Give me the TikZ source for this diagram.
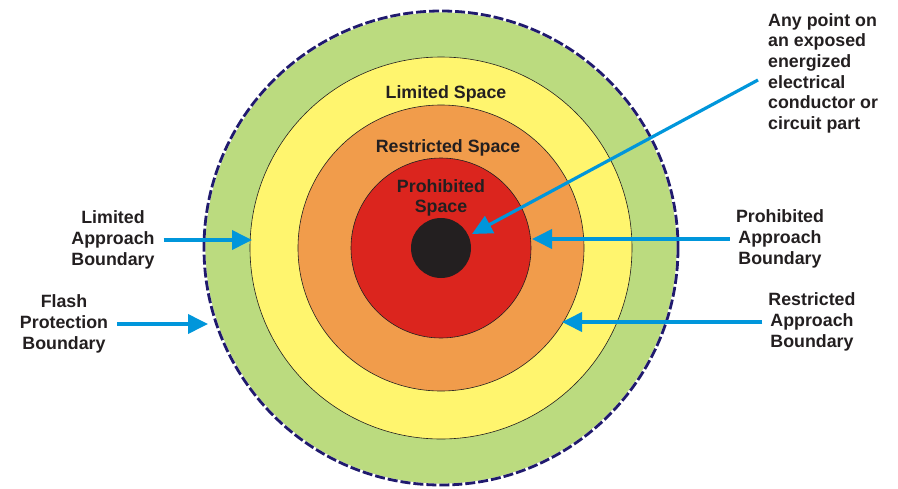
\documentclass[tikz,border=0pt]{standalone}
\usepackage{fontspec}
\setmainfont{Liberation Sans}
\usetikzlibrary{arrows.meta, positioning}
\definecolor{zoneFlash}{HTML}{BBDB7F}
\definecolor{zoneLimited}{HTML}{FFF56E}
\definecolor{zoneRestricted}{HTML}{F19C4B}
\definecolor{zoneProhibited}{HTML}{DB251E}
\definecolor{zoneCore}{HTML}{231F20}
\definecolor{edgeNavy}{HTML}{201A6E}
\definecolor{pointerBlue}{HTML}{0096DB}

\begin{document}
\begin{tikzpicture}[
  x=1pt, y=-1pt,
  font=\fontsize{17.8}{20.7}\selectfont\bfseries,
  band/.style={circle, draw=zoneCore, line width=0.6pt, inner sep=0pt},
  lbl/.style={text=zoneCore, align=center, inner sep=0pt},
  a/.style={-{Triangle[length=20pt, width=19pt]}, line width=3.8pt, draw=pointerBlue}
]
\useasboundingbox (0,0) rectangle (898,488);
\coordinate (c) at (441,248);
% zones, outside in
\node[band, draw=none, fill=zoneFlash, minimum size=474pt] (flash) at (c) {};
\draw[white, line width=2.8pt] (c) circle[radius=237];
\draw[edgeNavy, line width=2.8pt, dash pattern=on 10pt off 3pt] (c) circle[radius=237];
\node[band, fill=zoneLimited, minimum size=382pt] (limited) at (c) {};
\node[band, fill=zoneRestricted, minimum size=286pt] (restricted) at (c) {};
\node[band, fill=zoneProhibited, minimum size=180pt] (prohibited) at (c) {};
\node[band, draw=none, fill=zoneCore, minimum size=60pt] (core) at (c) {};
% space names
\node[lbl] (limsp) at (446,94) {Limited Space};
\node[lbl] (ressp) at (448,148) {Restricted Space};
\node[lbl] (prosp) at (441,198) {Prohibited\\Space};
% boundary labels
\node[lbl] (limlab) at (113,240) {Limited\\Approach\\Boundary};
\node[lbl] (flashlab) at (64,324) {Flash\\Protection\\Boundary};
\node[lbl] (prolab) at (780,239) {Prohibited\\Approach\\Boundary};
\node[lbl] (reslab) at (812,322) {Restricted\\Approach\\Boundary};
\node[lbl, align=left, anchor=north west] (pointlab) at (768,13)
  {Any point on\\an exposed\\energized\\electrical\\conductor or\\circuit part};
% arrow tips on the zone edges
\coordinate (limtip) at (252,240);
\coordinate (flashtip) at (208,324);
\coordinate (protip) at (532,239);
\coordinate (restip) at (562,322);
\coordinate (coretip) at (472,234);
\coordinate (pointtail) at (758,80);
\draw[a] ([xshift=9pt]limlab.east |- limtip) -- (limtip);
\draw[a] ([xshift=9pt]flashlab.east |- flashtip) -- (flashtip);
\draw[a] ([xshift=-6pt]prolab.west |- protip) -- (protip);
\draw[a] ([xshift=-6pt]reslab.west |- restip) -- (restip);
\draw[a, line width=3.2pt] (pointtail) -- (coretip);
\end{tikzpicture}
\end{document}
